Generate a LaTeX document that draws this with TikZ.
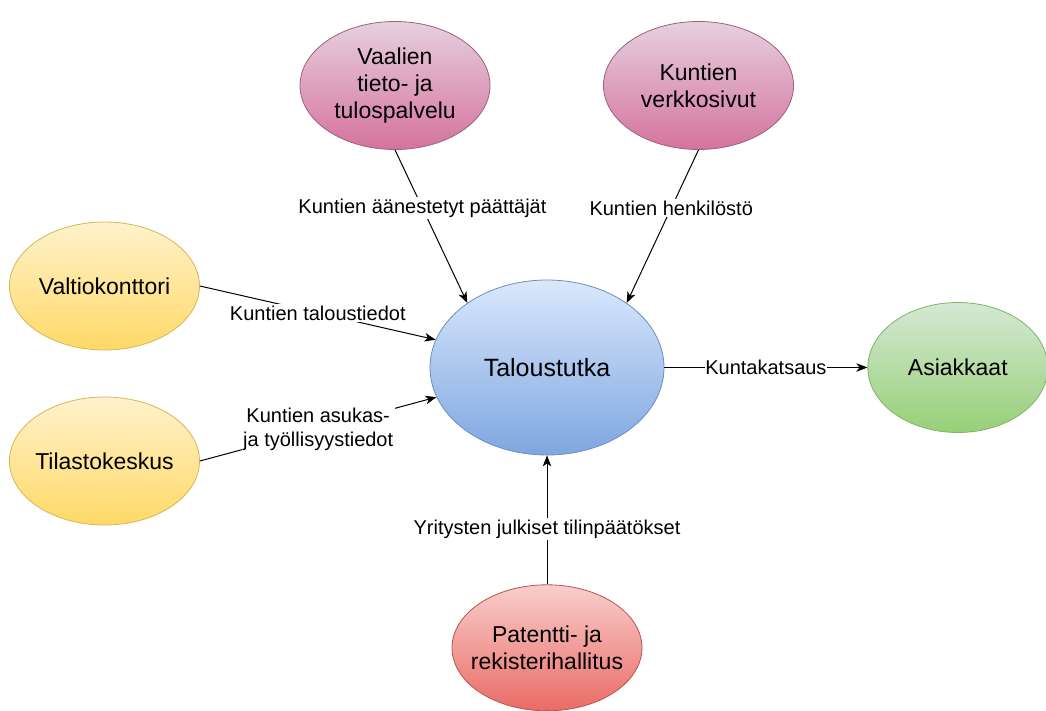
\documentclass[tikz,border=0pt]{standalone}
\usepackage{fontspec}
\setmainfont{Liberation Sans}
\usetikzlibrary{arrows.meta,positioning,shapes.geometric}

\definecolor{pinkTop}{HTML}{E6D0DE}
\definecolor{pinkBot}{HTML}{D5739D}
\definecolor{pinkLine}{HTML}{996185}
\definecolor{yelTop}{HTML}{FFF2CC}
\definecolor{yelBot}{HTML}{FFD966}
\definecolor{yelLine}{HTML}{D6B656}
\definecolor{bluTop}{HTML}{DAE8FC}
\definecolor{bluBot}{HTML}{7EA6E0}
\definecolor{bluLine}{HTML}{6C8EBF}
\definecolor{grnTop}{HTML}{D5E8D4}
\definecolor{grnBot}{HTML}{97D077}
\definecolor{grnLine}{HTML}{82B366}
\definecolor{redTop}{HTML}{F8CECC}
\definecolor{redBot}{HTML}{EA6B66}
\definecolor{redLine}{HTML}{B85450}

\begin{document}
\begin{tikzpicture}[
    x=1pt, y=-1pt,
    >={Stealth[length=11pt,width=8.5pt,inset=3pt]},
    lahde/.style={
        ellipse,
        draw,
        line width=0.8pt,
        inner xsep=-14pt,
        inner ysep=0pt,
        minimum width=190pt,
        minimum height=128pt,
        align=center,
        font=\fontsize{23}{27}\selectfont
    },
    vaali/.style={lahde, top color=pinkTop, bottom color=pinkBot, draw=pinkLine},
    valtio/.style={lahde, top color=yelTop, bottom color=yelBot, draw=yelLine},
    asiakas/.style={lahde, top color=grnTop, bottom color=grnBot, draw=grnLine, minimum width=180pt, minimum height=130pt},
    prh/.style={lahde, top color=redTop, bottom color=redBot, draw=redLine, minimum height=126pt},
    keskus/.style={lahde, top color=bluTop, bottom color=bluBot, draw=bluLine,
        minimum width=234pt, minimum height=175pt, font=\fontsize{25}{29}\selectfont},
    virta/.style={->, line width=1pt},
    selite/.style={fill=white, inner sep=1.5pt, align=center, font=\fontsize{20}{24}\selectfont}
]
\useasboundingbox (0,0) rectangle (1046,710);

% Solmut
\node[keskus] (talous) at (547,367.5) {Taloustutka};
\node[vaali] (vaalit) at (395,85.5) {Vaalien\\tieto- ja\\tulospalvelu};
\node[vaali] (verkko) at (698.5,85.5) {Kuntien\\verkkosivut};
\node[valtio] (valtiokonttori) at (104.5,286) {Valtiokonttori};
\node[valtio] (tilasto) at (104.5,461) {Tilastokeskus};
\node[asiakas, right=203pt of talous] (asiakkaat) {Asiakkaat};
\node[prh, below=129pt of talous] (patentti) {Patentti- ja\\rekisterihallitus};

% Yhteydet
\draw[virta] (vaalit.south) -- (talous.141)
    node[selite, pos=0.38] {Kuntien äänestetyt päättäjät};
\draw[virta] (verkko.south) -- (talous.39)
    node[selite, pos=0.38] {Kuntien henkilöstö};
\draw[virta] (valtiokonttori.east) -- (talous.166)
    node[selite, midway] {Kuntien taloustiedot};
\draw[virta] (tilasto.east) -- (talous.195)
    node[selite, midway] {Kuntien asukas-\\ja työllisyystiedot};
\draw[virta] (talous.east) -- (asiakkaat.west)
    node[selite, midway, inner sep=0.5pt] {Kuntakatsaus};
\draw[virta] (patentti.north) -- (talous.south)
    node[selite, pos=0.43] {Yritysten julkiset tilinpäätökset};

\end{tikzpicture}
\end{document}
